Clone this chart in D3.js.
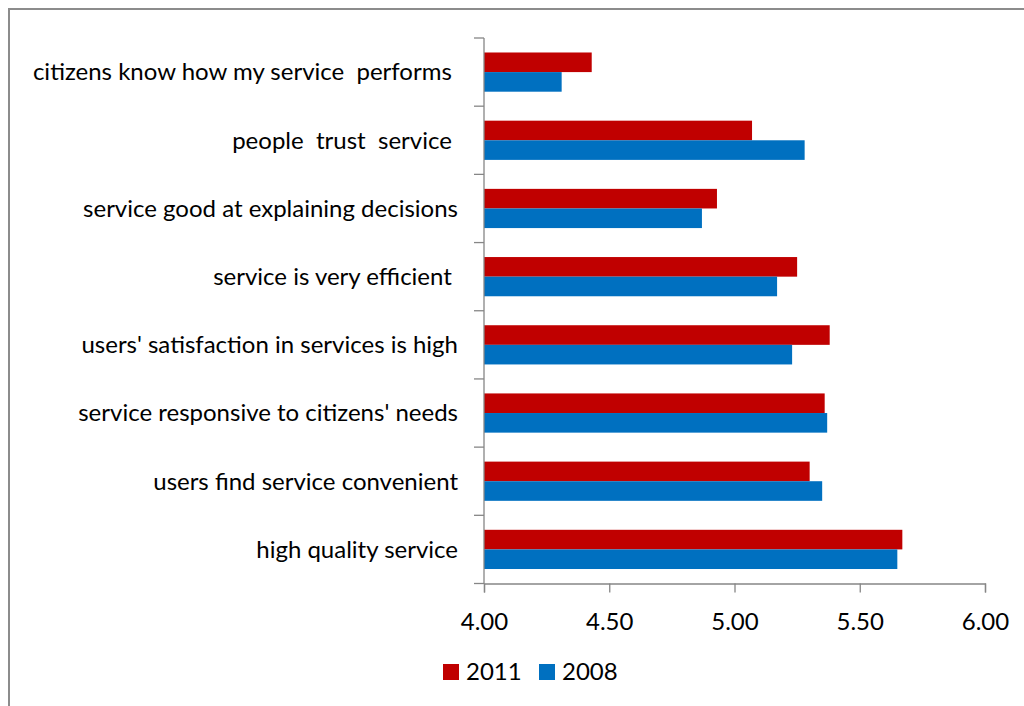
<!DOCTYPE html>
<html>
<head>
<meta charset="utf-8">
<script src="https://cdn.jsdelivr.net/npm/d3@7"></script>
<style>
  html, body { margin: 0; padding: 0; background: #fff; }
  svg { display: block; }
  text { font-family: Lato, "Open Sans", sans-serif; fill: #000; white-space: pre; }
</style>
</head>
<body>
<svg id="chart" width="1024" height="706"></svg>
<script>
// Survey statements, top to bottom
const categories = [
  "citizens know how my service  performs ",
  "people  trust  service ",
  "service good at explaining decisions",
  "service is very efficient ",
  "users' satisfaction in services is high",
  "service responsive to citizens' needs",
  "users find service convenient",
  "high quality service"
];
const values2011 = [4.43, 5.07, 4.93, 5.25, 5.38, 5.36, 5.30, 5.67];
const values2008 = [4.31, 5.28, 4.87, 5.17, 5.23, 5.37, 5.35, 5.65];
const seriesNames = ["2011", "2008"];
const seriesColors = ["#C00000", "#0070C0"];
const xTicks = [4.0, 4.5, 5.0, 5.5, 6.0];

const FONT_SIZE = 24;
const svg = d3.select("#chart");

// outer chart frame (right and bottom edges fall outside the page)
svg.append("rect")
  .attr("x", 9).attr("y", 9)
  .attr("width", 1100).attr("height", 800)
  .attr("fill", "#fff")
  .attr("stroke", "#8c8c8c").attr("stroke-width", 2);

const plot = { left: 484, right: 985, top: 38, bottom: 583.5 };

const x = d3.scaleLinear().domain([4, 6]).range([plot.left, plot.right]);
const y = d3.scaleBand().domain(categories)
  .range([plot.top, plot.bottom])
  .paddingInner(0.425).paddingOuter(0.2125);
const ySeries = d3.scaleBand().domain(seriesNames).range([0, y.bandwidth()]);

const rows = categories.map((c, i) => ({ c, v: [values2011[i], values2008[i]] }));

// bars
const g = svg.append("g");
rows.forEach(r => {
  seriesNames.forEach((s, j) => {
    g.append("rect")
      .attr("x", x(4))
      .attr("y", y(r.c) + ySeries(s))
      .attr("width", x(r.v[j]) - x(4))
      .attr("height", ySeries.bandwidth())
      .attr("fill", seriesColors[j]);
  });
});

const axisColor = "#868686";

// x axis
const xAxis = svg.append("g")
  .attr("transform", `translate(0,${plot.bottom})`)
  .call(d3.axisBottom(x).tickValues(xTicks).tickFormat(d3.format(".2f")).tickSize(9));
xAxis.select(".domain").attr("stroke", axisColor).attr("stroke-width", 1.3);
xAxis.selectAll(".tick line").attr("stroke", axisColor).attr("stroke-width", 1.3);
xAxis.selectAll(".tick text")
  .attr("y", 46).attr("dy", "0")
  .attr("font-size", FONT_SIZE).attr("fill", "#000")
  .style("font-family", "Lato, sans-serif");

// y axis: category boundaries get tick marks, labels sit at band centres
const yLine = svg.append("g");
yLine.append("line")
  .attr("x1", plot.left).attr("x2", plot.left)
  .attr("y1", plot.top).attr("y2", plot.bottom)
  .attr("stroke", axisColor).attr("stroke-width", 1.3);
const bounds = categories.map(c => y(c) - y.step() * y.paddingOuter()).concat([plot.bottom]);
yLine.selectAll("line.tk").data(bounds).join("line")
  .attr("class", "tk")
  .attr("x1", plot.left - 10).attr("x2", plot.left)
  .attr("y1", d => d).attr("y2", d => d)
  .attr("stroke", axisColor).attr("stroke-width", 1.3);

svg.append("g").selectAll("text").data(categories).join("text")
  .attr("x", 458)
  .attr("y", d => y(d) + y.bandwidth() / 2)
  .attr("dy", "0.35em")
  .attr("text-anchor", "end")
  .attr("font-size", FONT_SIZE)
  .text(d => d);

// legend
const legend = svg.append("g");
const legendItems = [
  { name: seriesNames[0], color: seriesColors[0], x: 443 },
  { name: seriesNames[1], color: seriesColors[1], x: 539 }
];
legendItems.forEach(it => {
  legend.append("rect").attr("x", it.x).attr("y", 664)
    .attr("width", 16).attr("height", 16).attr("fill", it.color);
  legend.append("text").attr("x", it.x + 23).attr("y", 672)
    .attr("dy", "0.35em").attr("font-size", FONT_SIZE).text(it.name);
});
</script>
</body>
</html>
